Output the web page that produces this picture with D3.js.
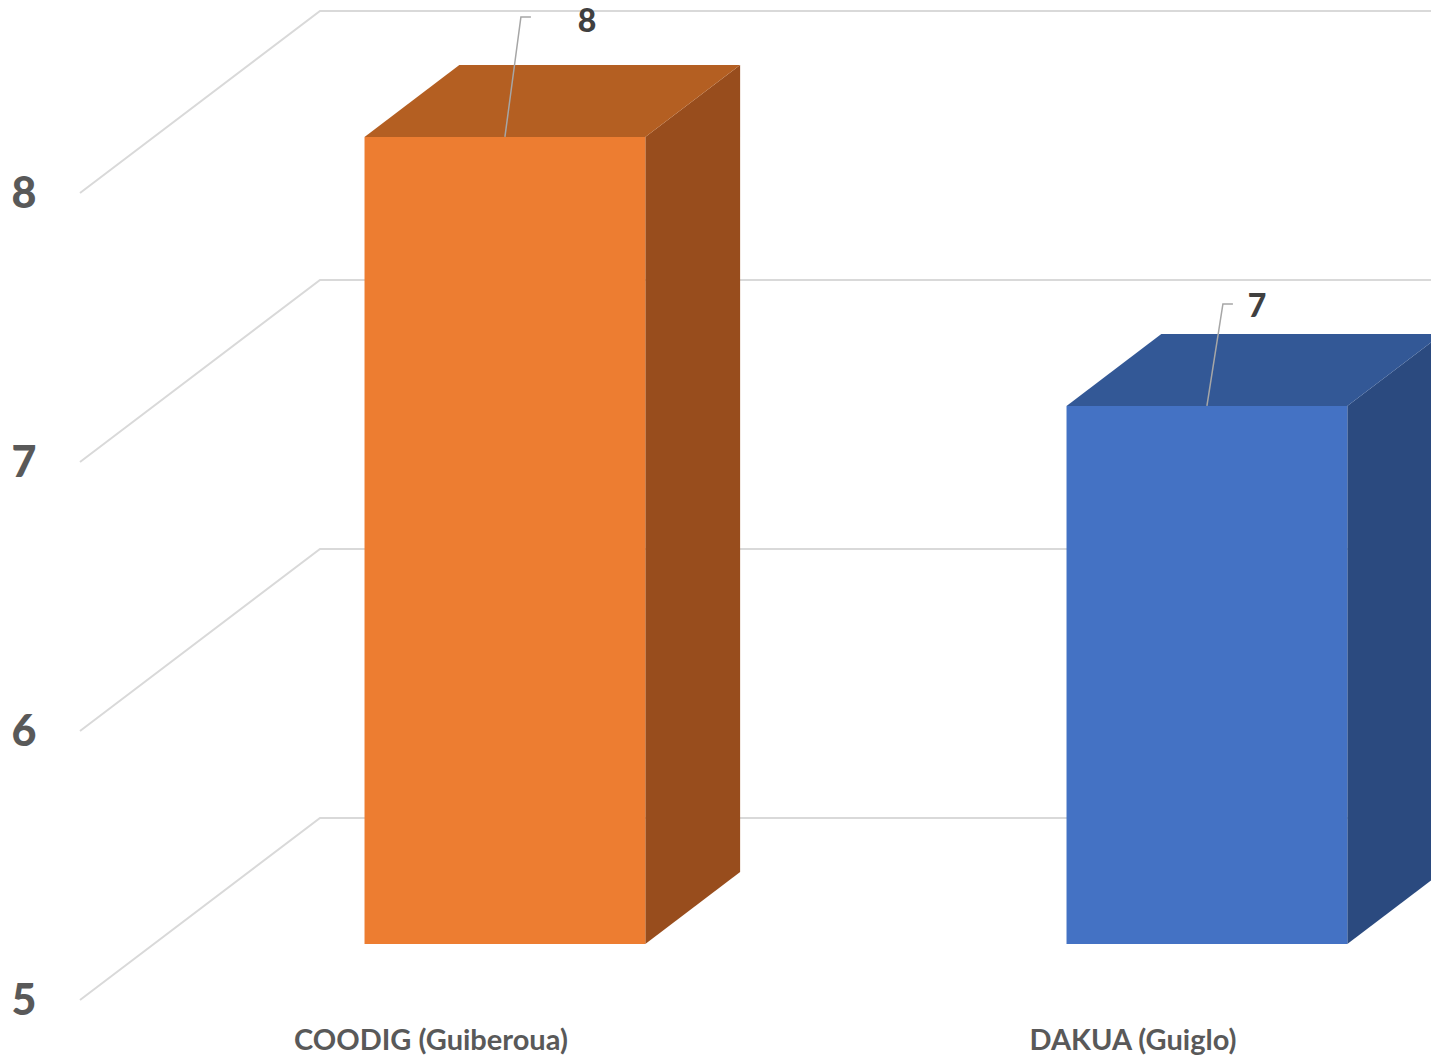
<!DOCTYPE html>
<html>
<head>
<meta charset="utf-8">
<script src="https://cdn.jsdelivr.net/npm/d3@7"></script>
<style>
  html, body { margin: 0; padding: 0; background: #fff; }
  svg { display: block; }
</style>
</head>
<body>
<div id="chart"></div>
<script>
const categories = ['COODIG (Guiberoua)', 'DAKUA (Guiglo)'];
const values = [8, 7];
const valueLabels = ['8', '7'];
const yTicks = [5, 6, 7, 8];
const frontColors = ['#ED7D31', '#4472C4'];
const topColors = ['#B45F22', '#335896'];
const sideColors = ['#984D1D', '#2B4A7F'];

const width = 1431, height = 1057;

// 3D projection: depth 0 = front plane, depth 1 = back wall
const depthDx = 240, depthDy = -182;
const barFrontDepth = 0.308, barBackDepth = 0.703;

const x = d3.scaleBand()
  .domain(categories)
  .range([80, 80 + 702 * categories.length])
  .paddingInner(0).paddingOuter(0);

const y = d3.scaleLinear().domain([5, 8]).range([1000, 193]);

const proj = (px, v, d) => [px + depthDx * d, y(v) + depthDy * d];

const svg = d3.select('#chart').append('svg')
  .attr('width', width).attr('height', height);

// Gridlines: back wall + left side wall
const grid = svg.append('g')
  .attr('stroke', '#D9D9D9').attr('stroke-width', 2).attr('fill', 'none');

yTicks.forEach(t => {
  const a = proj(x.range()[0], t, 0);
  const b = proj(x.range()[0], t, 1);
  const c = proj(x.range()[1], t, 1);
  grid.append('path').attr('d', d3.line()([a, b, c]));
});

// Y axis labels
svg.append('g').selectAll('text')
  .data(yTicks).join('text')
  .attr('x', 24).attr('y', d => y(d) + 15)
  .attr('text-anchor', 'middle')
  .attr('font-family', 'Lato, "Open Sans", sans-serif')
  .attr('font-weight', 900).attr('font-size', 43)
  .attr('fill', '#595959')
  .text(d => d);

// Bars
const barW = x.bandwidth() * 0.4;
const bars = svg.append('g');
categories.forEach((c, i) => {
  const x0 = x(c) + (x.bandwidth() - barW) / 2;
  const x1 = x0 + barW;
  const v = values[i];
  const fb = proj(x0, 5, barFrontDepth), fr = proj(x1, 5, barFrontDepth);
  const ft = proj(x0, v, barFrontDepth), ftr = proj(x1, v, barFrontDepth);
  const bt = proj(x0, v, barBackDepth), btr = proj(x1, v, barBackDepth);
  const bbr = proj(x1, 5, barBackDepth);
  // side face
  bars.append('path').attr('fill', sideColors[i])
    .attr('d', d3.line()([fr, ftr, btr, bbr]) + 'Z');
  // top face
  bars.append('path').attr('fill', topColors[i])
    .attr('d', d3.line()([ft, ftr, btr, bt]) + 'Z');
  // front face
  bars.append('path').attr('fill', frontColors[i])
    .attr('d', d3.line()([fb, fr, ftr, ft]) + 'Z');
});

// Data labels with leader lines
const labelOffsets = [
  { lx: 16, ly: -120, tx: 82, ty: -105 },
  { lx: 16, ly: -102, tx: 50, ty: -89 }
];
const labels = svg.append('g');
categories.forEach((c, i) => {
  const cx = x(c) + x.bandwidth() / 2;
  const [px, py] = proj(cx, values[i], barFrontDepth);
  const o = labelOffsets[i];
  labels.append('path')
    .attr('fill', 'none').attr('stroke', '#A6A6A6').attr('stroke-width', 1.5)
    .attr('d', d3.line()([[px, py], [px + o.lx, py + o.ly], [px + o.lx + 10, py + o.ly]]));
  labels.append('text')
    .attr('x', px + o.tx).attr('y', py + o.ty)
    .attr('text-anchor', 'middle')
    .attr('font-family', 'Lato, "Open Sans", sans-serif')
    .attr('font-weight', 900).attr('font-size', 32)
    .attr('fill', '#404040')
    .text(valueLabels[i]);
});

// Category labels
svg.append('g').selectAll('text')
  .data(categories).join('text')
  .attr('x', d => x(d) + x.bandwidth() / 2)
  .attr('y', 1050)
  .attr('text-anchor', 'middle')
  .attr('font-family', 'Lato, "Open Sans", sans-serif')
  .attr('font-weight', 'bold').attr('font-size', 29)
  .attr('fill', '#595959')
  .text(d => d);
</script>
</body>
</html>
